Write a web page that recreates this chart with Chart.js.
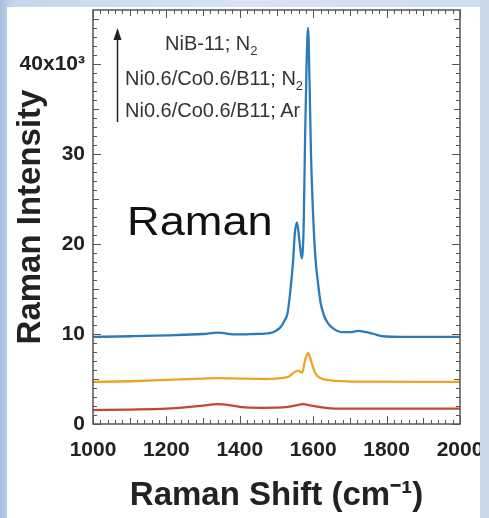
<!DOCTYPE html>
<html lang="en">
<head>
<meta charset="UTF-8">
<title>Raman spectra</title>
<script src="https://cdn.jsdelivr.net/npm/chart.js"></script>
<style>
  body { margin: 0; }
  #wrap { position: relative; width: 489px; height: 518px; overflow: hidden;
    background: linear-gradient(to right, #a6c0df 0%, #c6d7eb 3%, #d8e4f1 50%, #cfdcec 100%); }
  #panel { position: absolute; left: 7px; top: 7px; width: 473px; height: 511px; background: #fff; }
  #strip { position: absolute; left: 480px; top: 0; width: 9px; height: 518px; background: #cad9ea; }
  canvas { position: absolute; left: 0; top: 0; }
  .lbl { position: absolute; font-family: Arial, "Liberation Sans", sans-serif; font-size: 20px;
    line-height: 20px; color: #333; white-space: nowrap; }
  .lbl sub { font-size: 13px; vertical-align: -5px; line-height: 0; }
  #raman { position: absolute; left: 127px; top: 201px; font-family: Arial, "Liberation Sans", sans-serif;
    font-size: 40px; line-height: 40px; color: #111; transform: scaleX(1.13); transform-origin: 0 0; }
</style>
</head>
<body>
<div id="wrap">
  <div id="panel"></div>
  <canvas id="grafico" width="489" height="518"></canvas>
  <div id="strip"></div>
  <div class="lbl" style="left:165px; top:33px;">NiB-11; N<sub>2</sub></div>
  <div class="lbl" style="left:125px; top:68px;">Ni0.6/Co0.6/B11; N<sub>2</sub></div>
  <div class="lbl" style="left:125px; top:100px;">Ni0.6/Co0.6/B11; Ar</div>
  <div id="raman">Raman</div>
</div>
<script>
  // NiB-11; N2 (offset ~10k)
  const shiftBlue = [1000, 1100, 1200, 1300, 1340, 1390, 1440, 1482, 1500, 1512, 1522, 1530, 1537, 1545, 1550, 1556,
    1562, 1569, 1574, 1578, 1582, 1586, 1590, 1594, 1600, 1606, 1613, 1620, 1630, 1640, 1655, 1680, 1700, 1722,
    1745, 1765, 1790, 1850, 1950, 2000];
  const intBlue = [9.67, 9.75, 9.85, 10.0, 10.15, 9.95, 10.0, 10.1, 10.4, 10.8, 11.5, 12.3, 14.5, 18.0, 21.2, 22.4,
    20.5, 18.4, 22.0, 32.0, 40.0, 44.0, 38.0, 30.0, 23.0, 18.5, 15.7, 13.5, 12.0, 11.2, 10.6, 10.2, 10.2, 10.35,
    10.2, 10.0, 9.75, 9.68, 9.67, 9.67];

  // Ni0.6/Co0.6/B11; N2 (offset ~5k)
  const shiftOrange = [1000, 1100, 1200, 1300, 1340, 1400, 1470, 1530, 1550, 1560, 1570, 1578, 1586, 1595, 1605,
    1620, 1660, 1750, 1900, 2000];
  const intOrange = [4.67, 4.75, 4.9, 5.05, 5.1, 5.05, 5.0, 5.2, 5.8, 5.9, 5.7, 7.1, 7.9, 6.9, 5.7,
    5.1, 4.8, 4.7, 4.67, 4.67];

  // Ni0.6/Co0.6/B11; Ar
  const shiftRed = [1000, 1100, 1200, 1264, 1300, 1340, 1370, 1400, 1460, 1530, 1550, 1572, 1595, 1616, 1670,
    1800, 1900, 2000];
  const intRed = [1.55, 1.6, 1.7, 1.9, 2.05, 2.2, 2.1, 1.9, 1.8, 1.9, 2.05, 2.2, 2.05, 1.9, 1.7,
    1.7, 1.7, 1.7];

  const seriesNames = ["NiB-11; N₂", "Ni0.6/Co0.6/B11; N₂", "Ni0.6/Co0.6/B11; Ar"];
  const seriesColors = ["#2b7bba", "#eaa622", "#c8472b"];
  const xTicks = [1000, 1200, 1400, 1600, 1800, 2000];
  const yTicks = [0, 10, 20, 30, 40];
  const yTickLabels = ["0", "10", "20", "30", "40x10³"];

  const pontos = (xs, ys) => xs.map((s, i) => ({ x: s, y: ys[i] }));

  // frame, inward ticks on all four sides, and the arrow next to the labels
  const moldura = {
    id: "moldura",
    afterDatasetsDraw(chart) {
      const { ctx, chartArea: a, scales: { x, y } } = chart;
      ctx.save();
      ctx.strokeStyle = "#555";
      ctx.lineWidth = 1;
      ctx.beginPath();
      for (let v = 1000; v <= 2000; v += 20) {
        const px = Math.round(x.getPixelForValue(v)) + 0.5;
        const len = v % 200 === 0 ? 8 : (v % 100 === 0 ? 6 : 4);
        ctx.moveTo(px, a.bottom); ctx.lineTo(px, a.bottom - len);
        ctx.moveTo(px, a.top); ctx.lineTo(px, a.top + len);
      }
      for (let v = 0; v <= 45; v += 1) {
        const py = Math.round(y.getPixelForValue(v)) + 0.5;
        const len = v % 10 === 0 ? 8 : (v % 5 === 0 ? 6 : 4);
        ctx.moveTo(a.left, py); ctx.lineTo(a.left + len, py);
        ctx.moveTo(a.right, py); ctx.lineTo(a.right - len, py);
      }
      ctx.stroke();
      ctx.lineWidth = 1.5;
      ctx.strokeRect(a.left, a.top, a.right - a.left, a.bottom - a.top);

      // arrow
      ctx.strokeStyle = "#222";
      ctx.fillStyle = "#222";
      ctx.lineWidth = 1.5;
      ctx.beginPath();
      ctx.moveTo(117.5, 122); ctx.lineTo(117.5, 36);
      ctx.stroke();
      ctx.beginPath();
      ctx.moveTo(117.5, 28); ctx.lineTo(113.5, 40); ctx.lineTo(121.5, 40); ctx.closePath();
      ctx.fill();
      ctx.restore();
    }
  };

  const fonteTick = { family: "Arial", size: 21, weight: "bold", lineHeight: 1.2 };
  const fonteTitulo = { family: "Arial", size: 33, weight: "bold", lineHeight: 1.2 };

  new Chart(document.getElementById("grafico"), {
    type: "line",
    data: {
      datasets: [
        { label: seriesNames[0], data: pontos(shiftBlue, intBlue), borderColor: seriesColors[0] },
        { label: seriesNames[1], data: pontos(shiftOrange, intOrange), borderColor: seriesColors[1] },
        { label: seriesNames[2], data: pontos(shiftRed, intRed), borderColor: seriesColors[2] }
      ]
    },
    options: {
      responsive: false,
      animation: false,
      layout: { padding: { left: 0, top: 10, right: 29, bottom: 0 } },
      elements: {
        point: { radius: 0 },
        line: { borderWidth: 2.3, cubicInterpolationMode: "monotone" }
      },
      plugins: { legend: { display: false }, tooltip: { enabled: false } },
      scales: {
        x: {
          type: "linear", min: 1000, max: 2000,
          grid: { display: false, drawTicks: false },
          border: { display: false },
          afterBuildTicks: s => { s.ticks = xTicks.map(v => ({ value: v })); },
          afterFit: s => { s.height = 94; s.paddingLeft = 0; s.paddingRight = 0; },
          ticks: { padding: 14, maxRotation: 0, autoSkip: false, color: "#222", font: fonteTick,
            callback: v => String(v) },
          title: { display: true, text: "Raman Shift (cm⁻¹)", color: "#222", font: fonteTitulo,
            padding: { top: 0, bottom: 2 } }
        },
        y: {
          min: 0, max: 46,
          grid: { display: false, drawTicks: false },
          border: { display: false },
          afterBuildTicks: s => { s.ticks = yTicks.map(v => ({ value: v })); },
          afterFit: s => { s.width = 93; s.paddingTop = 0; s.paddingBottom = 0; },
          ticks: { padding: 8, color: "#222", font: fonteTick,
            callback: v => yTickLabels[yTicks.indexOf(v)] },
          title: { display: true, text: "Raman Intensity", color: "#222", font: fonteTitulo,
            padding: { top: 11, bottom: 0 } }
        }
      }
    },
    plugins: [moldura]
  });
</script>
</body>
</html>
